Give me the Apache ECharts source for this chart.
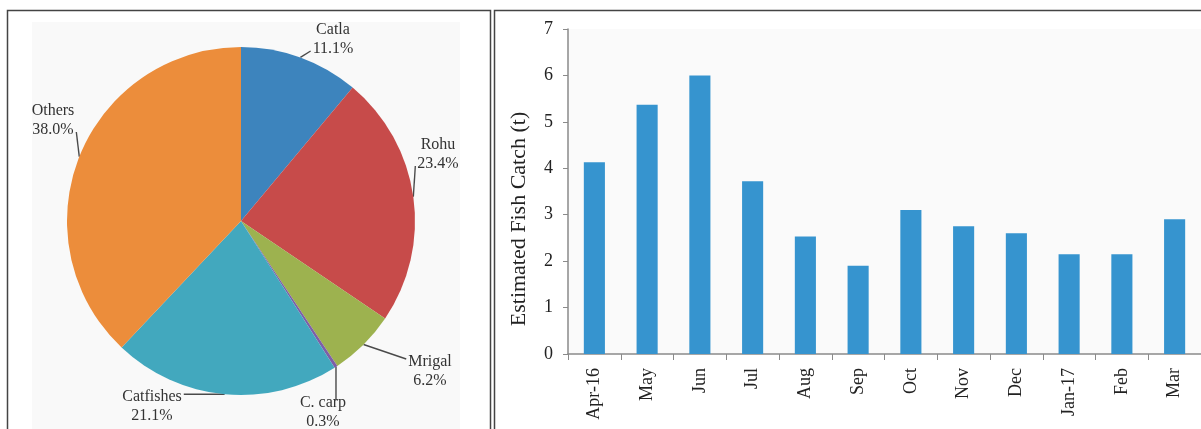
<!DOCTYPE html>
<html><head><meta charset="utf-8">
<script src="https://cdn.jsdelivr.net/npm/echarts@6/dist/echarts.min.js"></script>
<style>html,body{margin:0;padding:0;background:#fff}#c{width:1201px;height:429px}</style>
</head><body><div id="c"></div>
<script>
const speciesNames = ['Catla','Rohu','Mrigal','C. carp','Catfishes','Others'];
const speciesShare = [11.1, 23.4, 6.2, 0.3, 21.1, 38.0];
const speciesColors = ['#3d84bd','#c74b4a','#9db24f','#7d5fa7','#42a8be','#ec8d3b'];
const months = ['Apr-16','May','Jun','Jul','Aug','Sep','Oct','Nov','Dec','Jan-17','Feb','Mar'];
const catchT = [4.13, 5.37, 6.0, 3.72, 2.53, 1.9, 3.1, 2.75, 2.6, 2.15, 2.15, 2.9];
const yTicks = [0,1,2,3,4,5,6,7];
// label anchor centres for the pie callouts (layout only)
const pieLabelAt = [[333,39],[438,154],[430,371],[323,412],[152,406],[53,120]];

const serif = '"Liberation Serif","DejaVu Serif",serif';
const chart = echarts.init(document.getElementById('c'), null, {renderer:'canvas'});
chart.setOption({
  animation:false,
  backgroundColor:'#fff',
  graphic:[
    {type:'rect', shape:{x:7.5,y:10.5,width:483,height:430}, style:{fill:'none',stroke:'#444',lineWidth:1.5}, z:-10},
    {type:'rect', shape:{x:32,y:22,width:428,height:420}, style:{fill:'#f9f9f9'}, z:-20},
    {type:'rect', shape:{x:494.5,y:10.5,width:720,height:430}, style:{fill:'none',stroke:'#444',lineWidth:1.5}, z:-10},
    {type:'text', x:519, y:219, rotation:Math.PI/2,
      style:{text:'Estimated Fish Catch (t)', x:0, y:0, align:'center', verticalAlign:'middle',
        fill:'#222', font:'22px "Liberation Serif", serif'}}
  ],
  grid:{left:568, right:0, top:29, bottom:75, show:true, backgroundColor:'#fafafa', borderWidth:0},
  xAxis:{type:'category', data:months,
    axisLine:{lineStyle:{color:'#8a8a8a',width:1.5}},
    axisTick:{show:true, length:6, lineStyle:{color:'#8a8a8a'}},
    axisLabel:{rotate:90, color:'#222', fontFamily:serif, fontSize:18, margin:14, interval:0}
  },
  yAxis:{type:'value', min:0, max:7, interval:1,
    axisLine:{show:true, lineStyle:{color:'#8a8a8a',width:1.5}},
    axisTick:{show:true, length:5, lineStyle:{color:'#8a8a8a'}},
    splitLine:{show:false},
    axisLabel:{color:'#222', fontFamily:serif, fontSize:18, margin:15,
      formatter:v=>yTicks.includes(v)?String(v):''}
  },
  series:[
    {type:'bar', data:catchT, barWidth:'40%', itemStyle:{color:'#3694cf'}},
    {type:'pie', center:[241,221], radius:174, startAngle:90, clockwise:true,
      data:speciesNames.map((n,i)=>({name:n, value:speciesShare[i], itemStyle:{color:speciesColors[i]}})),
      itemStyle:{borderWidth:0},
      label:{show:true, position:'outside', formatter:p=>p.name+'\n'+p.value.toFixed(1)+'%',
        fontFamily:serif, fontSize:16, color:'#333', lineHeight:19, align:'center'},
      labelLine:{show:true, length:10, length2:8, smooth:false, lineStyle:{color:'#4a4a4a',width:1.4}},
      labelLayout:function(p){
        const a = pieLabelAt[p.dataIndex];
        const out = {x:a[0], y:a[1], align:'center', verticalAlign:'middle'};
        const pts = p.labelLinePoints;
        if (pts && pts.length) {
          const s = pts[0];
          const w = p.labelRect.width, h = p.labelRect.height;
          const x0 = a[0]-w/2-2, x1 = a[0]+w/2+2, y0 = a[1]-h/2-1, y1 = a[1]+h/2+1;
          const e = [Math.min(Math.max(s[0],x0),x1), Math.min(Math.max(s[1],y0+8),y1-8)];
          out.labelLinePoints = [[s[0],s[1]], e];
        }
        return out;
      }
    }
  ]
});
</script></body></html>
